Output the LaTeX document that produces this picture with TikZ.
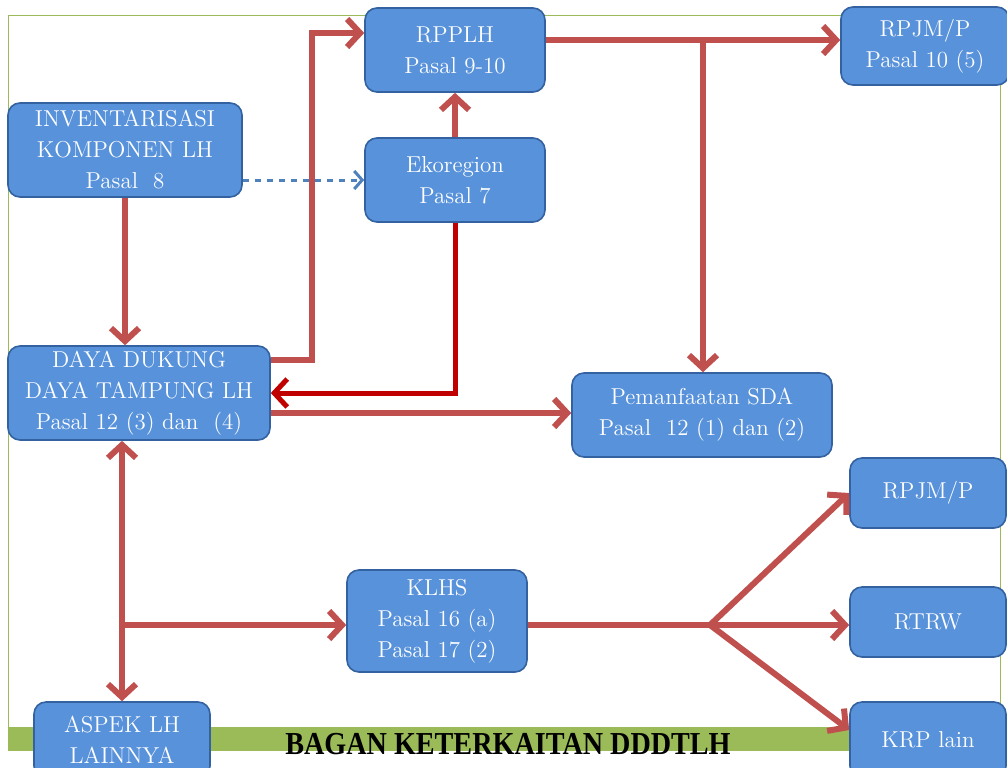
\documentclass[tikz,border=0pt]{standalone}
\usepackage{fontspec}
\newfontfamily\titlefont{Liberation Serif}
\usetikzlibrary{arrows.meta}

\definecolor{boxblue}{RGB}{88,146,218}
\definecolor{boxedge}{RGB}{52,98,160}
\definecolor{linkred}{RGB}{192,80,77}
\definecolor{darkred}{RGB}{192,0,0}
\definecolor{dashblue}{RGB}{79,129,189}
\definecolor{bargreen}{RGB}{155,187,89}

\tikzset{
  box/.style={draw=boxedge, line width=0.8pt, fill=boxblue, rounded corners=6pt,
    text=white, align=center, inner sep=0pt, font=\fontsize{11.5}{15.5}\selectfont},
  link/.style={draw=linkred, line width=3pt,
    -{Straight Barb[length=6.5pt,width=14pt]}},
  plainlink/.style={draw=linkred, line width=3pt},
  bothlink/.style={draw=linkred, line width=3pt,
    {Straight Barb[length=6.5pt,width=14pt]}-{Straight Barb[length=6.5pt,width=14pt]}}
}

\begin{document}
\begin{tikzpicture}[x=0.5pt,y=-0.5pt]
\useasboundingbox (0,0) rectangle (1007,767);

% frame and title bar
\draw[bargreen, line width=0.5pt] (8,15) rectangle (1000,750);
\fill[bargreen] (8,727) rectangle (1000,750);
\node[inner sep=0pt] (title) at (508,744)
  {\scalebox{0.88}[1]{\titlefont\bfseries\fontsize{16}{16}\selectfont BAGAN KETERKAITAN DDDTLH}};

% create the nodes
\node[box, minimum width=90pt, minimum height=42pt] (rpplh) at (455,50) {RPPLH\\Pasal 9-10};
\node[box, minimum width=84pt, minimum height=39pt] (rpjm) at (925,46) {RPJM/P\\Pasal 10 (5)};
\node[box, minimum width=117pt, minimum height=47pt] (inv) at (125,150)
  {INVENTARISASI\\KOMPONEN LH\\Pasal~~8};
\node[box, minimum width=90pt, minimum height=42pt] (eko) at (455,180) {Ekoregion\\Pasal 7};
\node[box, minimum width=131pt, minimum height=47pt] (daya) at (139,393)
  {DAYA DUKUNG\\DAYA TAMPUNG LH\\Pasal 12 (3) dan~~(4)};
\node[box, minimum width=130pt, minimum height=42pt] (pem) at (702,415)
  {Pemanfaatan SDA\\Pasal~~12 (1) dan (2)};
\node[box, minimum width=78pt, minimum height=35pt] (rpjmb) at (928,493) {RPJM/P};
\node[box, minimum width=90pt, minimum height=51pt] (klhs) at (437,621)
  {KLHS\\Pasal 16 (a)\\Pasal 17 (2)};
\node[box, minimum width=78pt, minimum height=35pt] (rtrw) at (928,622) {RTRW};
\node[box, minimum width=78pt, minimum height=38pt] (krp) at (928,740) {KRP lain};
\node[box, minimum width=88pt, minimum height=38pt] (aspek) at (122,740) {ASPEK LH\\LAINNYA};

% connector points
\coordinate (up) at (312,360);
\coordinate (top) at (312,33);
\coordinate (fork) at (703,40);
\coordinate (tee) at (122,625);
\coordinate (jn) at (710,625);

% top row
\draw[link] (rpplh.east |- fork) -- (rpjm.west |- fork);
\draw[link] (fork) -- (fork |- pem.north);
\draw[link] (daya.east |- up) -- (up) -- (top) -- (rpplh.west |- top);
\draw[link] (eko.north) -- (rpplh.south);
\draw[dashblue, line width=1.5pt, dashed, -{Straight Barb[length=4pt,width=9pt]}]
  (inv.east |- eko.west) -- (eko.west);

% middle
\draw[link] (inv.south) -- (inv.south |- daya.north);
\draw[draw=darkred, line width=2.5pt, -{Straight Barb[length=6.5pt,width=14pt]}]
  (eko.south) |- (daya.east);
\draw[link] ([yshift=-10pt]daya.east) -- ([yshift=-10pt]daya.east -| pem.west);

% bottom
\draw[bothlink] (daya.south -| tee) -- (aspek.north -| tee);
\draw[link] (tee) -- (tee -| klhs.west);
\draw[plainlink] (klhs.east |- jn) -- (jn);
\draw[link] (jn) -- (rpjmb.west);
\draw[link] (jn) -- (rtrw.west |- jn);
\draw[link] (jn) -- ([yshift=5pt]krp.west);

\end{tikzpicture}
\end{document}
